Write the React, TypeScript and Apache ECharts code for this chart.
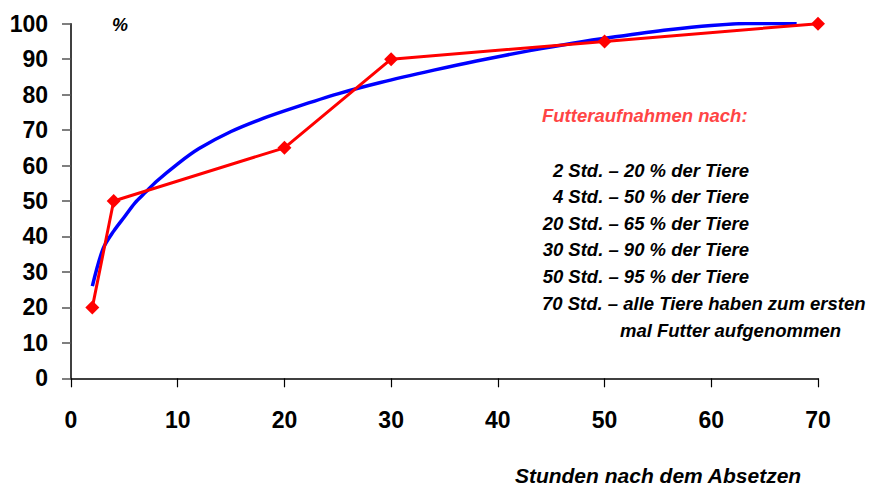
import React, { useEffect, useRef } from "react";
import * as echarts from "echarts";

const stundenPunkte = [2, 4, 20, 30, 50, 70];
const tierAnteil = [20, 50, 65, 90, 95, 100];

const trendX = [2, 3, 4, 5, 6, 7, 8, 10, 12, 15, 18, 21, 25, 29, 34, 38, 43, 47, 51, 56, 60, 64, 68];
const trendY = [26, 36.5, 41.5, 45.5, 49.5, 52.5, 55.5, 60.5, 64.8, 69.6, 73.3, 76.4, 80.2, 83.4, 86.9, 89.5, 92.4, 94.5, 96.3, 98.3, 99.5, 100.1, 100];

const legendTitle = "Futteraufnahmen nach:";
const legendLines = [
  "2 Std. – 20 % der Tiere",
  "4 Std. – 50 % der Tiere",
  "20 Std. – 65 % der Tiere",
  "30 Std. – 90 % der Tiere",
  "50 Std. – 95 % der Tiere",
];
const legendLastA = "70 Std. – alle Tiere haben zum ersten";
const legendLastB = "mal Futter aufgenommen";

const xTitle = "Stunden nach dem Absetzen";
const yUnit = "%";

const FONT = "'Liberation Sans', Arial, sans-serif";

export default function App() {
  const ref = useRef<HTMLDivElement>(null);
  useEffect(() => {
    if (!ref.current) return;
    const chart = echarts.init(ref.current, null, { renderer: "svg" });
    const txtStyle = (extra: any) => ({
      fontFamily: FONT,
      fontWeight: "bold",
      fontStyle: "italic",
      fontSize: 18.5,
      fill: "#000",
      ...extra,
    });
    const graphics: any[] = [
      {
        type: "text",
        x: 120,
        y: 25,
        style: txtStyle({ text: yUnit, fontSize: 18, align: "center", verticalAlign: "middle" }),
      },
      {
        type: "text",
        x: 542,
        y: 115,
        style: txtStyle({ text: legendTitle, fill: "#ff4545", verticalAlign: "middle", align: "left" }),
      },
    ];
    legendLines.forEach((t, i) => {
      graphics.push({
        type: "text",
        x: 749,
        y: 170 + i * 26.6,
        style: txtStyle({ text: t, align: "right", verticalAlign: "middle" }),
      });
    });
    graphics.push({
      type: "text",
      x: 542,
      y: 303,
      style: txtStyle({ text: legendLastA, align: "left", verticalAlign: "middle" }),
    });
    graphics.push({
      type: "text",
      x: 620,
      y: 330,
      style: txtStyle({ text: legendLastB, align: "left", verticalAlign: "middle" }),
    });
    graphics.push({
      type: "text",
      x: 658,
      y: 475,
      style: txtStyle({ text: xTitle, fontSize: 21, lineHeight: 19, align: "center", verticalAlign: "middle" }),
    });

    chart.setOption({
      animation: false,
      grid: { left: 71, right: 52, top: 23.7, bottom: 106.7, containLabel: false },
      xAxis: {
        type: "value",
        min: 0,
        max: 70,
        interval: 10,
        axisLine: { show: true, lineStyle: { color: "#000", width: 1.5 } },
        axisTick: { show: true, length: 9, lineStyle: { color: "#000", width: 1.2 } },
        splitLine: { show: false },
        axisLabel: {
          margin: 30,
          fontFamily: FONT,
          fontWeight: "bold",
          fontSize: 23,
          color: "#000",
        },
      },
      yAxis: {
        type: "value",
        min: 0,
        max: 100,
        interval: 10,
        axisLine: { show: true, lineStyle: { color: "#000", width: 1.5 } },
        axisTick: { show: true, length: 9, lineStyle: { color: "#555", width: 1.5 } },
        splitLine: { show: false },
        axisLabel: {
          margin: 23,
          fontFamily: FONT,
          fontWeight: "bold",
          fontSize: 23,
          color: "#000",
        },
      },
      series: [
        {
          type: "line",
          data: trendX.map((x, i) => [x, trendY[i]]),
          smooth: 0.3,
          showSymbol: false,
          symbol: "none",
          lineStyle: { color: "#0000ff", width: 3.5 },
          z: 2,
        },
        {
          type: "line",
          data: stundenPunkte.map((x, i) => [x, tierAnteil[i]]),
          symbol: "diamond",
          symbolSize: 14,
          itemStyle: { color: "#ff0000" },
          lineStyle: { color: "#ff0000", width: 3 },
          z: 3,
        },
      ],
      graphic: graphics,
    });
    return () => chart.dispose();
  }, []);
  return (
    <div
      ref={ref}
      style={{ position: "absolute", left: 0, top: 0, width: 870, height: 485 }}
    />
  );
}
